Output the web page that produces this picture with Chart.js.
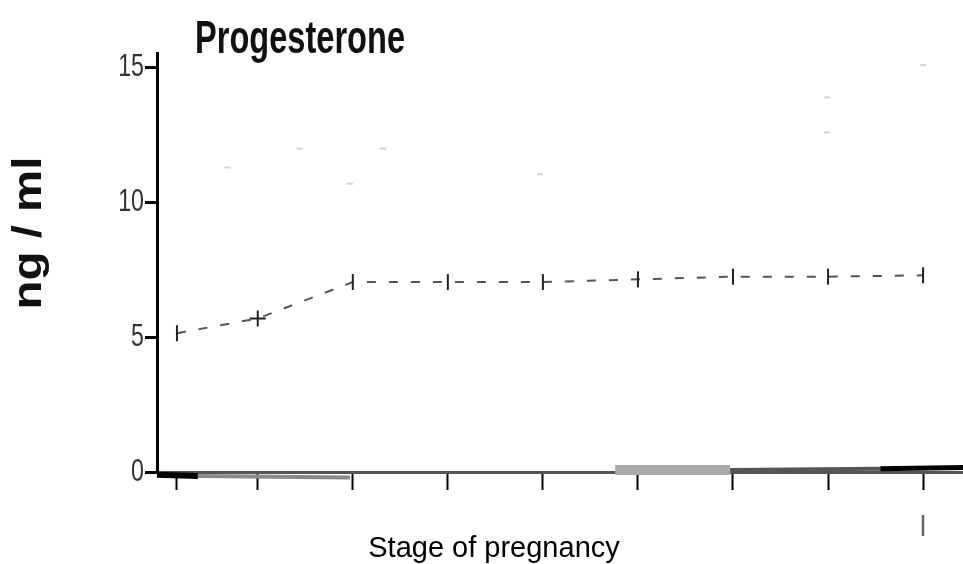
<!DOCTYPE html>
<html lang="en">
<head>
    <meta charset="UTF-8">
    <title>Progesterone</title>
    <script src="https://cdn.jsdelivr.net/npm/chart.js"></script>
    <style>
        html, body {
            margin: 0;
            padding: 0;
            background: #fff;
            overflow: hidden;
        }
        .wrap {
            position: relative;
            width: 963px;
            height: 564px;
        }
    </style>
</head>
<body>
    <div class="wrap"><canvas id="grafico"></canvas></div>

    <script>
        const chartTitle = "Progesterone";
        const yTitle = "ng / ml";
        const xTitle = "Stage of pregnancy";

        // stage positions on the x axis and mean progesterone (ng/ml)
        const stages = [1.15, 2, 3, 4, 5, 6, 7, 8, 9];
        const progesterone = [5.15, 5.7, 7.05, 7.05, 7.05, 7.15, 7.25, 7.25, 7.3];
        const markerStyles = ["line", "cross", "line", "line", "line", "line", "line", "line", "line"];
        const markerRotation = [90, 0, 90, 90, 90, 90, 90, 90, 90];

        // faint upper readings
        const upperStages = [1.68, 2.44, 2.97, 3.32, 4.97, 7.99, 7.99, 9.0];
        const upperValues = [11.3, 12.0, 10.7, 12.0, 11.05, 13.9, 12.6, 15.1];

        // trace running along the zero line
        const traceStages = [0.94, 1.37, 2.97, 5.76, 6.97, 8.55, 9.42];
        const traceValues = [-0.1, -0.15, -0.2, 0.07, 0.07, 0.12, 0.17];
        const traceColors = ["#000", "#888", "rgba(0,0,0,0)", "#aaa", "#555", "#000"];
        const traceWidths = [6, 4, 1, 10, 4, 5];

        const yTicks = [0, 5, 10, 15];
        const xTickLabels = ["", "", "", "", "", "", "", "", "I"];

        const narrow = '"Liberation Sans Narrow", "Arial Narrow", "DejaVu Sans Condensed", sans-serif';
        const plain = '"Liberation Sans", Arial, sans-serif';

        // title, axis names and y tick numbers, squeezed or stretched to the lettering used
        const textLabels = {
            id: "textLabels",
            afterDraw(chart) {
                const ctx = chart.ctx;
                ctx.save();
                ctx.fillStyle = "#111";
                ctx.textBaseline = "alphabetic";

                ctx.save();
                ctx.font = "bold 46px " + plain;
                ctx.textAlign = "left";
                let w = ctx.measureText(chartTitle).width;
                ctx.translate(195, 53);
                ctx.scale(210 / w, 1);
                ctx.fillText(chartTitle, 0, 0);
                ctx.restore();

                ctx.save();
                ctx.font = "bold 40px " + plain;
                ctx.textAlign = "center";
                w = ctx.measureText(yTitle).width;
                ctx.translate(41, 233);
                ctx.rotate(-Math.PI / 2);
                ctx.scale(153 / w, 1);
                ctx.fillText(yTitle, 0, 0);
                ctx.restore();

                const yScale = chart.scales.y;
                ctx.font = "31px " + plain;
                ctx.fillStyle = "#333";
                ctx.textAlign = "right";
                ctx.textBaseline = "middle";
                yTicks.forEach(v => {
                    ctx.save();
                    ctx.translate(144, yScale.getPixelForValue(v));
                    ctx.scale(0.75, 1);
                    ctx.fillText(String(v), 0, 0);
                    ctx.restore();
                });

                ctx.font = "29px " + plain;
                ctx.textAlign = "center";
                ctx.textBaseline = "alphabetic";
                ctx.fillStyle = "#000";
                ctx.fillText(xTitle, 494, 557);
                ctx.restore();
            }
        };

        const ctx = document.getElementById("grafico").getContext("2d");
        new Chart(ctx, {
            type: "line",
            data: {
                datasets: [
                    {
                        label: "Progesterone",
                        data: stages.map((x, i) => ({ x: x, y: progesterone[i] })),
                        borderColor: "#555",
                        borderWidth: 2,
                        borderDash: [9, 13],
                        pointStyle: markerStyles,
                        rotation: markerRotation,
                        pointRadius: 8,
                        pointBorderColor: "#222",
                        pointBorderWidth: 2,
                        tension: 0,
                        fill: false
                    },
                    {
                        label: "upper",
                        data: upperStages.map((x, i) => ({ x: x, y: upperValues[i] })),
                        showLine: false,
                        pointStyle: "line",
                        pointRadius: 3,
                        pointBorderColor: "#d2d2d2",
                        pointBorderWidth: 2
                    },
                    {
                        label: "trace",
                        data: traceStages.map((x, i) => ({ x: x, y: traceValues[i] })),
                        pointRadius: 0,
                        clip: false,
                        borderColor: "#555",
                        segment: {
                            borderColor: c => traceColors[c.p0DataIndex],
                            borderWidth: c => traceWidths[c.p0DataIndex]
                        }
                    }
                ]
            },
            options: {
                responsive: true,
                maintainAspectRatio: false,
                animation: false,
                layout: {
                    autoPadding: false,
                    padding: { top: 53, right: 0, bottom: 0, left: 0 }
                },
                plugins: {
                    legend: { display: false },
                    title: { display: false },
                    tooltip: { enabled: false }
                },
                scales: {
                    x: {
                        type: "linear",
                        min: 0.94,
                        max: 9.42,
                        afterBuildTicks: axis => { axis.ticks = stages.map(v => ({ value: v })); },
                        afterFit: axis => {
                            axis.height = 92;
                            axis.paddingLeft = 0;
                            axis.paddingRight = 0;
                        },
                        border: { color: "#555", width: 3 },
                        grid: { drawOnChartArea: false, tickLength: 18, tickWidth: 2, tickColor: "#000" },
                        ticks: {
                            autoSkip: false,
                            maxRotation: 0,
                            padding: 22,
                            color: "#666",
                            font: { family: narrow, size: 28 },
                            callback: (v, i) => xTickLabels[i]
                        }
                    },
                    y: {
                        min: 0,
                        max: 15.55,
                        afterBuildTicks: axis => { axis.ticks = yTicks.map(v => ({ value: v })); },
                        afterFit: axis => {
                            axis.width = 157;
                            axis.paddingTop = 0;
                            axis.paddingBottom = 0;
                        },
                        border: { color: "#000", width: 3 },
                        grid: { drawOnChartArea: false, tickLength: 12, tickWidth: 3, tickColor: "#000" },
                        ticks: { display: false }
                    }
                }
            },
            plugins: [textLabels]
        });
    </script>
</body>
</html>
